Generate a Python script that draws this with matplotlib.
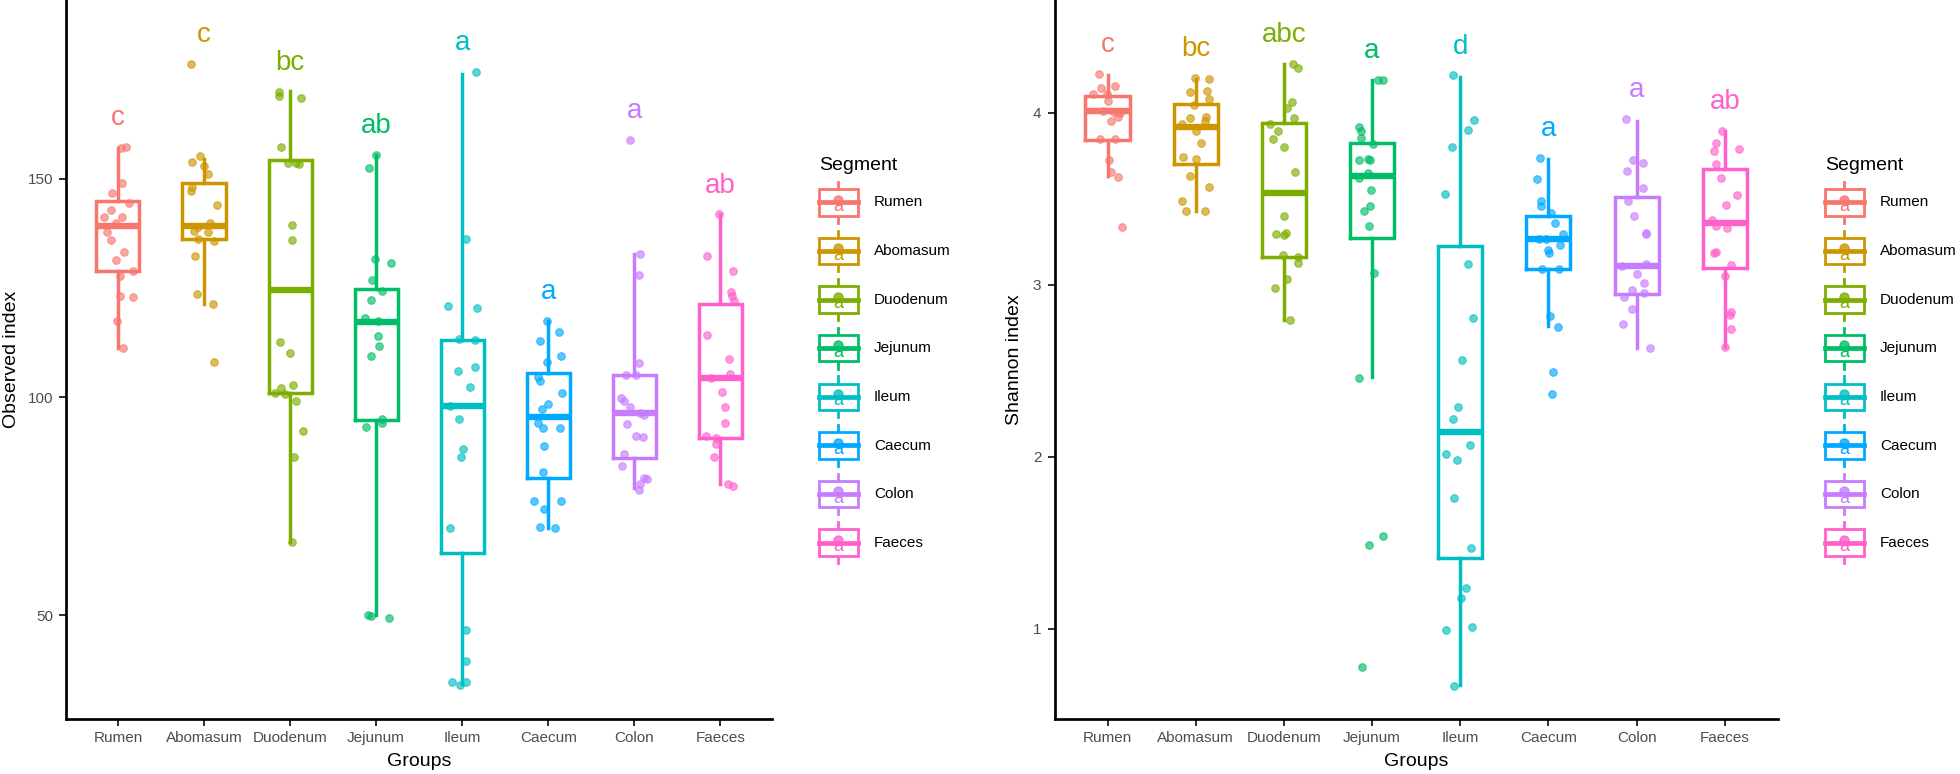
import matplotlib.pyplot as plt
import matplotlib.text as mtext
from matplotlib.legend_handler import HandlerBase
from matplotlib.lines import Line2D
from matplotlib.patches import Rectangle

plt.rcParams['font.family'] = ['Liberation Sans', 'DejaVu Sans']

groups = ["Rumen", "Abomasum", "Duodenum", "Jejunum", "Ileum", "Caecum", "Colon", "Faeces"]
colors = ["#F8766D", "#CD9600", "#7CAE00", "#00BE67", "#00BFC4", "#00A9FF", "#C77CFF", "#FF61CC"]

# Observed index: per-sample values and horizontal jitter
obs_points = [
    [157.2, 157.0, 149.1, 146.8, 144.4, 142.9, 141.2, 141.2, 139.8, 137.8, 135.9, 133.3, 131.4, 128.8, 127.7, 123.1, 122.8, 117.5, 111.2],
    [176.2, 155.3, 153.8, 152.8, 151.1, 148.2, 147.1, 144.0, 139.8, 138.9, 138.1, 137.8, 136.1, 135.8, 132.4, 123.7, 121.2, 108.1],
    [169.9, 169.0, 168.5, 157.3, 153.6, 153.6, 153.4, 139.3, 135.9, 112.6, 110.0, 102.8, 102.0, 100.9, 100.6, 99.2, 92.3, 86.3, 66.9],
    [155.5, 152.5, 131.6, 130.7, 126.7, 124.3, 122.2, 118.1, 117.5, 113.9, 111.6, 109.5, 94.9, 94.0, 93.1, 50.0, 49.9, 49.5],
    [174.4, 136.1, 120.9, 120.4, 113.2, 113.0, 106.8, 105.9, 102.3, 98.0, 95.0, 88.0, 86.2, 70.0, 46.7, 39.6, 34.8, 34.1, 34.8],
    [117.5, 114.9, 112.9, 109.3, 108.1, 104.7, 103.6, 101.0, 98.3, 97.2, 94.0, 92.9, 92.9, 88.7, 82.8, 76.2, 76.2, 74.4, 70.3, 70.1],
    [158.9, 132.8, 127.9, 107.9, 105.1, 105.1, 99.7, 99.2, 97.7, 96.3, 96.0, 93.8, 91.1, 90.9, 87.0, 84.3, 81.4, 81.2, 80.1, 78.8],
    [141.8, 132.4, 128.9, 124.0, 123.1, 122.0, 114.1, 108.8, 105.3, 104.4, 101.1, 97.7, 94.0, 91.2, 90.7, 89.3, 86.2, 80.0, 79.7],
]
obs_jitter = [
    [0.09, 0.04, 0.05, -0.07, 0.13, -0.08, -0.16, 0.05, -0.02, -0.13, -0.08, 0.07, -0.02, 0.17, 0.02, 0.02, 0.17, -0.01, 0.06],
    [-0.15, -0.05, -0.14, 0.0, 0.05, -0.14, -0.15, 0.15, 0.07, -0.07, -0.12, 0.05, -0.07, 0.12, -0.10, -0.08, 0.11, 0.12],
    [-0.13, -0.13, 0.13, -0.10, 0.07, -0.02, 0.10, 0.02, 0.02, -0.12, 0.0, 0.03, -0.10, -0.17, -0.06, 0.07, 0.15, 0.05, 0.02],
    [0.0, -0.08, -0.01, 0.17, -0.05, 0.07, -0.06, -0.13, 0.02, 0.02, 0.03, -0.06, 0.07, 0.07, -0.12, -0.09, -0.06, 0.15],
    [0.16, 0.05, -0.16, 0.17, -0.04, 0.15, 0.15, -0.05, 0.09, -0.14, -0.04, 0.01, -0.01, -0.14, 0.04, 0.05, -0.12, -0.02, 0.05],
    [-0.02, 0.12, -0.09, 0.15, -0.01, -0.12, -0.10, 0.16, 0.0, -0.07, -0.12, -0.06, 0.14, -0.05, -0.06, -0.17, 0.15, -0.05, -0.10, 0.08],
    [-0.05, 0.07, 0.05, 0.06, -0.10, 0.02, -0.15, -0.12, -0.05, 0.07, 0.11, -0.08, 0.02, 0.10, -0.12, -0.14, 0.11, 0.15, 0.07, 0.06],
    [-0.02, -0.16, 0.15, 0.12, 0.13, 0.16, -0.15, 0.10, 0.11, -0.11, 0.02, 0.05, 0.05, -0.17, -0.05, -0.05, -0.07, 0.09, 0.15],
]
obs_q1 = [128.8, 136.1, 100.9, 94.7, 64.2, 81.4, 86.1, 90.7]
obs_med = [139.2, 139.2, 124.6, 117.2, 98.0, 95.5, 96.3, 104.4]
obs_q3 = [144.8, 148.9, 154.2, 124.8, 113.0, 105.6, 105.1, 121.4]
obs_lo = [111.2, 121.2, 66.9, 50.0, 34.2, 70.1, 79.1, 80.0]
obs_hi = [157.0, 154.5, 170.0, 155.5, 173.9, 117.5, 132.7, 141.8]
obs_letters = ["c", "c", "bc", "ab", "a", "a", "a", "ab"]

# Shannon index
sha_points = [
    [4.227, 4.155, 4.146, 4.112, 4.112, 4.069, 4.011, 4.003, 3.997, 3.977, 3.954, 3.848, 3.848, 3.725, 3.659, 3.630, 3.338],
    [4.204, 4.198, 4.126, 4.120, 4.083, 4.046, 3.977, 3.968, 3.954, 3.934, 3.897, 3.825, 3.745, 3.730, 3.633, 3.567, 3.487, 3.432, 3.429],
    [4.284, 4.261, 4.063, 4.026, 3.968, 3.934, 3.897, 3.848, 3.802, 3.659, 3.403, 3.300, 3.295, 3.292, 3.174, 3.160, 3.128, 3.034, 2.979, 2.798],
    [4.192, 4.189, 3.917, 3.897, 3.854, 3.817, 3.733, 3.725, 3.725, 3.653, 3.624, 3.553, 3.461, 3.429, 3.343, 3.071, 2.460, 1.537, 1.488, 0.777],
    [4.218, 3.957, 3.900, 3.802, 3.527, 3.122, 2.810, 2.563, 2.288, 2.222, 2.067, 2.015, 1.984, 1.760, 1.468, 1.235, 1.178, 1.009, 0.995, 0.668],
    [3.736, 3.616, 3.487, 3.458, 3.418, 3.360, 3.294, 3.269, 3.269, 3.231, 3.200, 3.183, 3.094, 3.094, 2.821, 2.753, 2.494, 2.365],
    [3.963, 3.725, 3.710, 3.662, 3.561, 3.490, 3.398, 3.303, 3.294, 3.122, 3.108, 3.062, 3.013, 2.973, 2.950, 2.927, 2.861, 2.775, 2.632],
    [3.897, 3.825, 3.788, 3.779, 3.702, 3.624, 3.524, 3.464, 3.378, 3.343, 3.329, 3.194, 3.183, 3.117, 3.051, 2.844, 2.827, 2.741, 2.641],
]
sha_jitter = [
    [-0.10, 0.08, -0.07, -0.16, -0.01, 0.01, -0.05, 0.07, 0.14, 0.12, 0.04, -0.09, 0.08, 0.02, 0.04, 0.12, 0.16],
    [-0.01, 0.15, 0.13, -0.06, 0.15, -0.02, 0.12, -0.06, 0.11, -0.16, 0.0, 0.06, -0.14, 0.0, -0.07, 0.15, -0.16, 0.11, -0.11],
    [0.10, 0.16, 0.09, 0.04, 0.12, -0.16, -0.07, -0.12, 0.0, 0.13, 0.0, 0.02, -0.09, 0.0, -0.01, 0.16, 0.16, 0.04, -0.10, 0.07],
    [0.12, 0.07, -0.15, -0.13, -0.13, 0.01, -0.05, -0.15, -0.02, -0.05, -0.15, -0.01, -0.02, -0.09, -0.03, 0.02, -0.15, 0.12, -0.04, -0.11],
    [-0.08, 0.16, 0.09, -0.09, -0.17, 0.09, 0.14, 0.02, -0.03, -0.08, 0.11, -0.16, -0.04, -0.07, 0.12, 0.06, 0.01, 0.13, -0.16, -0.07],
    [-0.10, -0.13, -0.08, -0.08, 0.03, 0.07, 0.16, -0.11, -0.03, 0.13, -0.01, 0.01, -0.07, 0.12, 0.02, 0.11, 0.05, 0.04],
    [-0.12, -0.04, 0.07, -0.11, 0.07, -0.10, -0.03, 0.11, 0.11, 0.11, -0.17, 0.0, 0.08, -0.05, 0.08, -0.14, -0.05, -0.15, 0.15],
    [-0.03, -0.10, 0.16, -0.12, -0.10, -0.04, 0.14, 0.01, -0.14, -0.10, 0.02, -0.10, -0.12, 0.07, 0.0, 0.07, 0.06, 0.07, 0.0],
]
sha_q1 = [3.845, 3.705, 3.165, 3.274, 1.410, 3.094, 2.948, 3.100]
sha_med = [4.009, 3.920, 3.533, 3.636, 2.147, 3.266, 3.108, 3.360]
sha_q3 = [4.098, 4.054, 3.943, 3.825, 3.229, 3.401, 3.510, 3.673]
sha_lo = [3.633, 3.432, 2.798, 2.463, 0.670, 2.758, 2.635, 2.641]
sha_hi = [4.221, 4.198, 4.284, 4.189, 4.212, 3.730, 3.954, 3.897]
sha_letters = ["c", "bc", "abc", "a", "d", "a", "a", "ab"]


class SegmentKey(HandlerBase):
    # boxplot key with the point and the letter glyph, as ggplot draws it
    def create_artists(self, legend, orig_handle, xdescent, ydescent, width, height, fontsize, trans):
        c = orig_handle.get_color()
        x0, y0 = -xdescent, -ydescent
        cx, cy = x0 + width / 2, y0 + height / 2
        bh = height * 0.65
        whisk = Line2D([cx, cx], [y0, y0 + height], color=c, lw=2.0, transform=trans)
        box = Rectangle((x0, cy - bh / 2), width, bh, facecolor='white', edgecolor=c,
                        lw=2.0, joinstyle='miter', transform=trans)
        med = Line2D([x0, x0 + width], [cy, cy], color=c, lw=3.4, transform=trans)
        dot = Line2D([cx], [cy + 2], marker='o', ms=6.5, color=c, mec=c, alpha=0.8, transform=trans)
        txt = mtext.Text(cx, cy - 3, 'a', color=c, fontsize=13, ha='center', va='center',
                         transform=trans)
        return [whisk, box, med, dot, txt]


def draw_panel(ax, points, jitter, q1, med, q3, lo, hi, letters, gap, ylim, yticks, ylabel, ylab_x):
    pos = list(range(1, len(groups) + 1))
    stats = [dict(q1=q1[i], med=med[i], q3=q3[i], whislo=lo[i], whishi=hi[i], fliers=[])
             for i in range(len(groups))]
    art = ax.bxp(stats, positions=pos, widths=0.5, showfliers=False, showcaps=False,
                 boxprops=dict(lw=2.5, solid_joinstyle='miter'),
                 whiskerprops=dict(lw=2.5), medianprops=dict(lw=4.6, solid_capstyle='butt'))
    for i, c in enumerate(colors):
        art['boxes'][i].set_color(c)
        art['medians'][i].set_color(c)
        art['whiskers'][2 * i].set_color(c)
        art['whiskers'][2 * i + 1].set_color(c)
        xs = [pos[i] + j for j in jitter[i]]
        ax.scatter(xs, points[i], s=30, color=c, alpha=0.65, edgecolors=c, linewidths=0.8, zorder=3)
        ax.text(pos[i], max(points[i]) + gap, letters[i], color=c, fontsize=20,
                ha='center', va='center')

    ax.set_xlim(0.4, 8.6)
    ax.set_ylim(*ylim)
    ax.set_xticks(pos)
    ax.set_xticklabels(groups)
    ax.set_yticks(yticks)
    for s in ['top', 'right']:
        ax.spines[s].set_visible(False)
    for s in ['left', 'bottom']:
        ax.spines[s].set_linewidth(1.95)
    ax.tick_params(axis='both', labelsize=11, labelcolor='#4D4D4D', color='#333333',
                   width=1.45, length=5)
    ax.tick_params(axis='x', pad=3.5)
    ax.tick_params(axis='y', pad=4.5)

    ax.set_xlabel("Groups", fontsize=14)
    ax.xaxis.label.set_va('center')
    ax.xaxis.set_label_coords(0.5, -0.0598)
    ax.set_ylabel(ylabel, fontsize=14)
    ax.yaxis.label.set_va('center')
    ax.yaxis.set_label_coords(ylab_x, 0.5)


fig = plt.figure(figsize=(19.6, 7.74), dpi=100)
ax1 = fig.add_axes([66.3 / 1960, 55 / 774, 705.7 / 1960, 719 / 774])
ax2 = fig.add_axes([1054.6 / 1960, 55 / 774, 723.1 / 1960, 719 / 774])

draw_panel(ax1, obs_points, obs_jitter, obs_q1, obs_med, obs_q3, obs_lo, obs_hi, obs_letters,
           6.6, (26.3, 190.9), [50, 100, 150], "Observed index", -0.0770)
draw_panel(ax2, sha_points, sha_jitter, sha_q1, sha_med, sha_q3, sha_lo, sha_hi, sha_letters,
           0.168, (0.475, 4.657), [1, 2, 3, 4], "Shannon index", -0.0561)

handles = [Line2D([], [], color=c) for c in colors]
for lx in [819, 1825]:
    fig.legend(handles, groups, title="Segment", loc='upper left',
               bbox_to_anchor=(lx / 1960, 1 - 157 / 774), bbox_transform=fig.transFigure,
               frameon=False, fontsize=11, title_fontsize=14, alignment='left',
               handler_map={Line2D: SegmentKey()}, handlelength=2.55, handleheight=3.72,
               labelspacing=0.52, handletextpad=1.05, borderpad=0, borderaxespad=0)

fig.savefig('out.png', dpi=100)
